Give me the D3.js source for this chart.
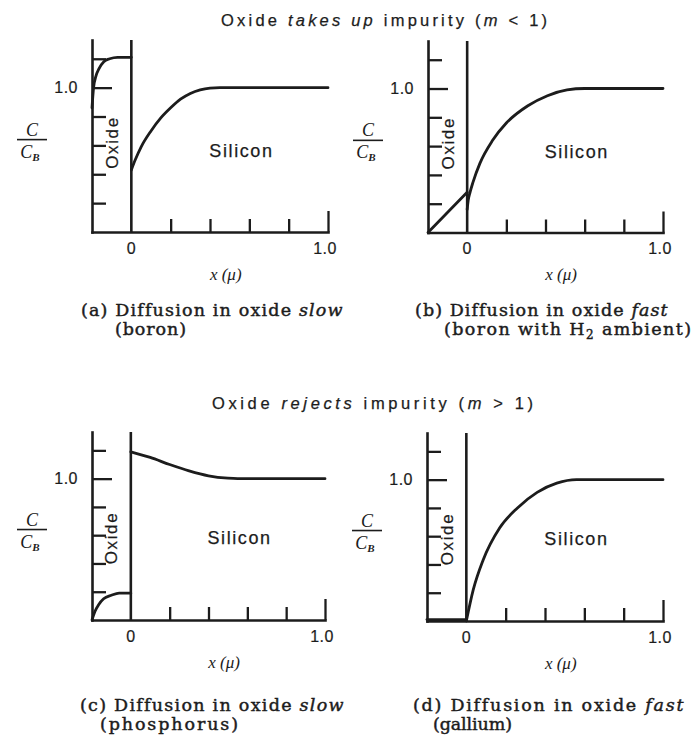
<!DOCTYPE html>
<html>
<head>
<meta charset="utf-8">
<script src="https://cdn.jsdelivr.net/npm/d3@7"></script>
<style>
  html, body { margin: 0; padding: 0; background: #ffffff; }
  svg { display: block; }
  .sans { font-family: "Liberation Sans", Arial, Helvetica, sans-serif; }
  .serif { font-family: "Liberation Serif", "Times New Roman", Times, serif; }
  .caption { font-family: "DejaVu Serif", "Liberation Serif", serif; }
</style>
</head>
<body>
<svg id="chart" width="696" height="739"></svg>
<script>
// Normalised impurity concentration C/C_B against depth x (microns).
// Negative x is inside the oxide, positive x is in the silicon.

// (a) diffusion in oxide slow (boron)
const oxideA   = [[-0.2, 0.86], [-0.192, 1.0], [-0.18, 1.08], [-0.165, 1.13], [-0.14, 1.18], [-0.11, 1.2], [-0.07, 1.21], [0, 1.21]];
const siliconA = [[0, 0.43], [0.02, 0.5], [0.05, 0.59], [0.1, 0.7], [0.15, 0.79], [0.2, 0.86], [0.25, 0.92], [0.3, 0.96], [0.35, 0.985], [0.4, 0.997], [0.45, 1.0], [1.0, 1.0]];

// (b) diffusion in oxide fast (boron with H2 ambient)
const oxideB   = [[-0.2, 0.0], [0, 0.28]];
const siliconB = [[0, 0.16], [0.005, 0.22], [0.015, 0.28], [0.03, 0.35], [0.065, 0.48], [0.13, 0.64], [0.2, 0.76], [0.31, 0.88], [0.41, 0.95], [0.51, 0.99], [0.6, 1.0], [1.0, 1.0]];

// (c) diffusion in oxide slow (phosphorus)
const oxideC   = [[-0.2, 0.0], [-0.185, 0.06], [-0.165, 0.11], [-0.14, 0.15], [-0.1, 0.175], [-0.06, 0.19], [0, 0.19]];
const siliconC = [[0, 1.19], [0.1, 1.15], [0.2, 1.1], [0.3, 1.055], [0.4, 1.02], [0.5, 1.003], [0.55, 1.0], [1.0, 1.0]];

// (d) diffusion in oxide fast (gallium)
const oxideD   = [[-0.2, 0.01], [0, 0.01]];
const siliconD = [[0, 0.0], [0.035, 0.22], [0.085, 0.43], [0.17, 0.66], [0.26, 0.8], [0.36, 0.91], [0.46, 0.975], [0.56, 1.0], [1.0, 1.0]];

// axis ticks and labels
const yTicks = [0.2, 0.4, 0.6, 0.8, 1.0, 1.2];
const xTicks = [0.2, 0.4, 0.6, 0.8, 1.0];
const xTickLabels = [[0, "0"], [1.0, "1.0"]];
const yTickLabels = [[1.0, "1.0"]];
const xDomain = [-0.2, 1.0];
const yDomainTop = 1.33;

// group headings
const headings = [
  [["Oxide ", false], ["takes up", true], [" impurity (", false], ["m", true], [" < 1)", false]],
  [["Oxide ", false], ["rejects", true], [" impurity (", false], ["m", true], [" > 1)", false]]
];

// panel captions: line one (plain, italic), line two parts [text, isSubscript]
const captionLine1 = [
  ["(a) Diffusion in oxide ", "slow"],
  ["(b) Diffusion in oxide ", "fast"],
  ["(c) Diffusion in oxide ", "slow"],
  ["(d) Diffusion in oxide ", "fast"]
];
const captionLine2 = [
  [["(boron)", false]],
  [["(boron with H", false], ["2", true], [" ambient)", false]],
  [["(phosphorus)", false]],
  [["(gallium)", false]]
];

const oxideSeries = [oxideA, oxideB, oxideC, oxideD];
const siliconSeries = [siliconA, siliconB, siliconC, siliconD];

// page layout for the four panels; caption spans are [left, right]
const layout = [
  { xLeft: 92,  xRight: 328, base: 232,   top: 40,  cap1: [81, 342],  cap2: [115, 186], capY: 310 },
  { xLeft: 428, xRight: 663, base: 232.5, top: 41,  cap1: [415, 667], cap2: [444, 691], capY: 310 },
  { xLeft: 92,  xRight: 325, base: 620,   top: 432, cap1: [80, 343],  cap2: [100, 238], capY: 705 },
  { xLeft: 427, xRight: 663, base: 621,   top: 433, cap1: [413, 683], cap2: [433, 512], capY: 705 }
];
const headingSpan = [{ x0: 221, x1: 547, y: 20 }, { x0: 212, x1: 533, y: 403 }];

const ink = "#1c1c1c";
const svg = d3.select("#chart");

// spread a text run so that it fills [x0, x1]
function fitText(sel, x0, x1) {
  const node = sel.node();
  sel.style("letter-spacing", "0px");
  const n = node.textContent.length;
  const w = node.getComputedTextLength();
  const ls = (x1 - x0 - w) / Math.max(1, n - 1);
  sel.attr("x", x0).attr("text-anchor", "start").style("letter-spacing", ls + "px");
}

// headings
headings.forEach((parts, i) => {
  const t = svg.append("text")
    .attr("class", "sans")
    .attr("y", headingSpan[i].y)
    .attr("dy", "0.35em")
    .attr("fill", ink).attr("stroke", ink).attr("stroke-width", 0.25)
    .style("font-size", "16.5px");
  parts.forEach(([s, it]) => {
    t.append("tspan").text(s).style("font-style", it ? "italic" : "normal");
  });
  fitText(t, headingSpan[i].x0, headingSpan[i].x1);
});

layout.forEach((L, i) => {
  const g = svg.append("g");
  const x = d3.scaleLinear().domain(xDomain).range([L.xLeft, L.xRight]);
  const y = d3.scaleLinear().domain([0, yDomainTop]).range([L.base, L.top]);

  // left axis with inward ticks
  const yAxis = d3.axisRight(y).tickValues(yTicks).tickSize(14).tickSizeOuter(0).tickFormat("");
  const ya = g.append("g").attr("transform", `translate(${x(xDomain[0])},0)`).call(yAxis);
  ya.selectAll("line").filter(d => d === 1.0).attr("x2", 20);

  // baseline with upward ticks
  const xAxis = d3.axisTop(x).tickValues(xTicks).tickSize(13).tickSizeOuter(0).tickFormat("");
  const xa = g.append("g").attr("transform", `translate(0,${y(0)})`).call(xAxis);
  xa.selectAll("line").filter(d => d === 1.0).attr("y2", -21);

  [ya, xa].forEach(a => {
    a.select(".domain").attr("stroke", ink).attr("stroke-width", 2.6).attr("stroke-linecap", "square");
    a.selectAll(".tick line").attr("stroke", ink).attr("stroke-width", 2.3);
  });

  // oxide / silicon interface at x = 0
  g.append("line")
    .attr("x1", x(0)).attr("x2", x(0))
    .attr("y1", y(0)).attr("y2", y(yDomainTop))
    .attr("stroke", ink).attr("stroke-width", 2.6);

  // profiles
  const line = d3.line().x(d => x(d[0])).y(d => y(d[1])).curve(d3.curveMonotoneX);
  [oxideSeries[i], siliconSeries[i]].forEach(s => {
    g.append("path").attr("d", line(s))
      .attr("fill", "none").attr("stroke", ink)
      .attr("stroke-width", 2.8).attr("stroke-linejoin", "round").attr("stroke-linecap", "round");
  });

  // y tick label
  yTickLabels.forEach(([v, s]) => {
    g.append("text").attr("class", "sans")
      .attr("x", x(xDomain[0]) - 14).attr("y", y(v)).attr("dy", "0.36em")
      .attr("text-anchor", "end").attr("fill", ink).attr("stroke", ink).attr("stroke-width", 0.2)
      .style("font-size", "16px").style("letter-spacing", "0.5px")
      .text(s);
  });

  // x tick labels
  xTickLabels.forEach(([v, s]) => {
    g.append("text").attr("class", "sans")
      .attr("x", x(v) - (v === 1 ? 3 : 0)).attr("y", y(0) + 16).attr("dy", "0.36em")
      .attr("text-anchor", "middle").attr("fill", ink).attr("stroke", ink).attr("stroke-width", 0.2)
      .style("font-size", "16px").style("letter-spacing", "0.5px")
      .text(s);
  });

  // x axis title
  g.append("text").attr("class", "serif")
    .attr("x", x(0.48)).attr("y", y(0) + 42).attr("dy", "0.35em")
    .attr("text-anchor", "middle").attr("fill", ink)
    .style("font-size", "17px").style("font-style", "italic")
    .text("x (μ)");

  // y axis title C / C_B
  const cx = x(xDomain[0]) - 60;
  const by = y(0.64);
  g.append("text").attr("class", "serif")
    .attr("x", cx).attr("y", by - 4).attr("text-anchor", "middle").attr("fill", ink)
    .style("font-size", "18px").style("font-style", "italic").text("C");
  g.append("line").attr("x1", cx - 15).attr("x2", cx + 15).attr("y1", by).attr("y2", by)
    .attr("stroke", ink).attr("stroke-width", 1.6);
  const cb = g.append("text").attr("class", "serif")
    .attr("x", cx - 2).attr("y", by + 18).attr("text-anchor", "middle").attr("fill", ink)
    .style("font-size", "18px").style("font-style", "italic");
  cb.append("tspan").text("C");
  cb.append("tspan").attr("dy", 3).style("font-size", "11px").style("font-weight", "bold").text("B");

  // region labels
  const oy = i < 2 ? 0.62 : 0.58;
  g.append("text").attr("class", "sans")
    .attr("transform", `translate(${(x(xDomain[0]) + x(0)) / 2 + 6},${y(oy)}) rotate(-90)`)
    .attr("text-anchor", "middle").attr("fill", ink).attr("stroke", ink).attr("stroke-width", 0.25)
    .style("font-size", "17px").style("letter-spacing", "1.6px")
    .text("Oxide");
  g.append("text").attr("class", "sans")
    .attr("x", x(0.56)).attr("y", y(i < 2 ? 0.56 : 0.58)).attr("dy", "0.35em")
    .attr("text-anchor", "middle").attr("fill", ink).attr("stroke", ink).attr("stroke-width", 0.25)
    .style("font-size", "18px").style("letter-spacing", "1.6px")
    .text("Silicon");

  // caption
  const c1 = svg.append("text").attr("class", "caption")
    .attr("y", L.capY).attr("dy", "0.35em").attr("fill", ink)
    .attr("stroke", ink).attr("stroke-width", 0.45)
    .style("font-size", "17.5px");
  c1.append("tspan").text(captionLine1[i][0]);
  c1.append("tspan").style("font-style", "italic").text(captionLine1[i][1]);
  fitText(c1, L.cap1[0], L.cap1[1]);

  const c2 = svg.append("text").attr("class", "caption")
    .attr("y", L.capY + 19).attr("dy", "0.35em").attr("fill", ink)
    .attr("stroke", ink).attr("stroke-width", 0.45)
    .style("font-size", "17.5px");
  let shifted = false;
  captionLine2[i].forEach(([s, sub]) => {
    const ts = c2.append("tspan").text(s);
    if (sub) { ts.attr("dy", 4).style("font-size", "12px"); shifted = true; }
    else if (shifted) { ts.attr("dy", -4); shifted = false; }
  });
  fitText(c2, L.cap2[0], L.cap2[1]);
});
</script>
</body>
</html>
